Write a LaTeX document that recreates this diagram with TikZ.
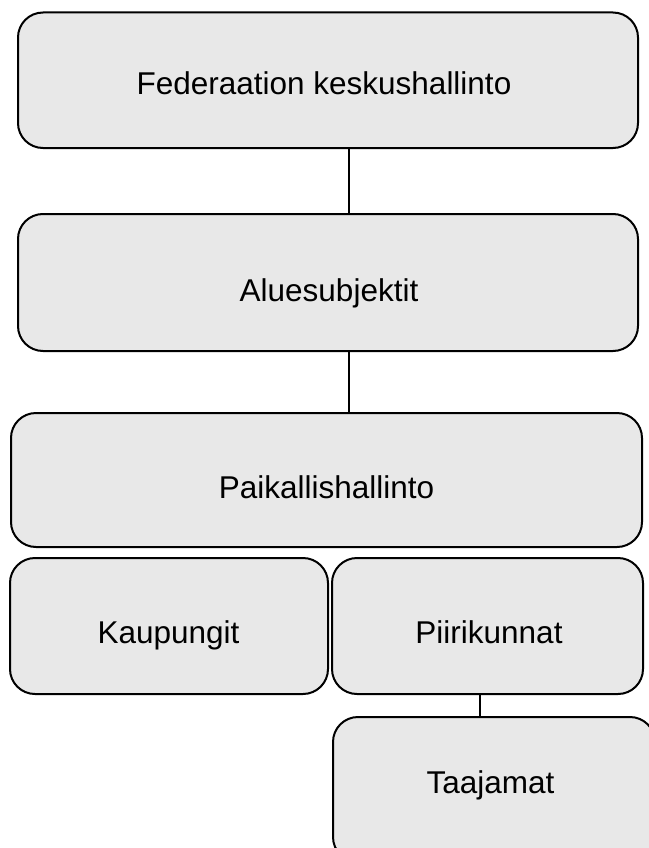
\documentclass[tikz,border=0pt]{standalone}
\usepackage{fontspec}
\setmainfont{Liberation Sans}
\begin{document}
\begin{tikzpicture}[x=1pt,y=-1pt,
  orgbox/.style={draw=black, line width=2pt, fill=boxgray, rounded corners=25pt, inner sep=0pt},
  orgtext/.style={inner sep=0pt, text height=22.5pt, text depth=0pt, font=\fontsize{31.5}{37}\selectfont},
  conn/.style={draw=black, line width=2pt}]
\definecolor{boxgray}{HTML}{E8E8E8}
\useasboundingbox (0,0) rectangle (648,848);
\node[orgbox, minimum width=620pt, minimum height=135.5pt] (b1) at (328,80.25) {};
\node[orgbox, minimum width=620pt, minimum height=137pt] (b2) at (328,282.5) {};
\node[orgbox, minimum width=631pt, minimum height=134pt] (b3) at (326.5,480) {};
\node[orgbox, minimum width=318pt, minimum height=136pt] (b4) at (169,626) {};
\node[orgbox, minimum width=311pt, minimum height=136pt] (b5) at (487.5,626) {};
\node[orgbox, minimum width=322pt, minimum height=145pt] (b6) at (494,789.5) {};
\node[orgtext] (t1) at (324,83.5) {Federaation keskushallinto};
\node[orgtext] (t2) at (329,290) {Aluesubjektit};
\node[orgtext] (t3) at (326.5,487) {Paikallishallinto};
\node[orgtext] (t4) at (168.5,632) {Kaupungit};
\node[orgtext] (t5) at (489,632) {Piirikunnat};
\node[orgtext] (t6) at (490.5,782) {Taajamat};
\coordinate (lx1) at (349,0);
\coordinate (lx2) at (479.5,0);
\draw[conn] (b1.south -| lx1) -- (b2.north -| lx1);
\draw[conn] (b2.south -| lx1) -- (b3.north -| lx1);
\draw[conn] (b5.south -| lx2) -- (b6.north -| lx2);
\end{tikzpicture}
\end{document}
